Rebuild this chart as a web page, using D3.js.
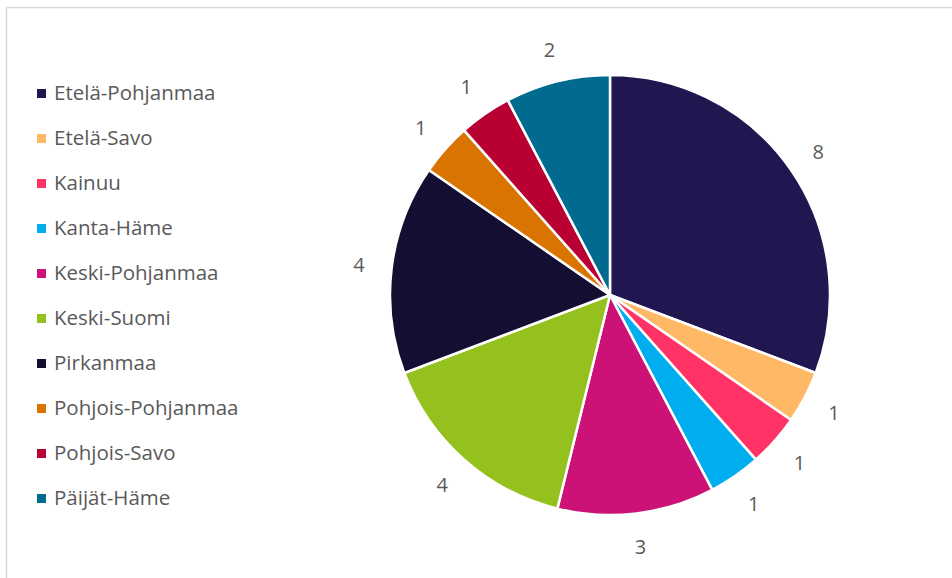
<!DOCTYPE html>
<html>
<head>
<meta charset="utf-8">
<script src="https://cdn.jsdelivr.net/npm/d3@7"></script>
<style>
  html, body { margin: 0; padding: 0; background: #fff; }
  svg { display: block; }
</style>
</head>
<body>
<svg id="chart" width="952" height="578"></svg>
<script>
// Maakunnat ja lukumäärät
const regions = ["Etelä-Pohjanmaa", "Etelä-Savo", "Kainuu", "Kanta-Häme", "Keski-Pohjanmaa",
                 "Keski-Suomi", "Pirkanmaa", "Pohjois-Pohjanmaa", "Pohjois-Savo", "Päijät-Häme"];
const counts = [8, 1, 1, 1, 3, 4, 4, 1, 1, 2];
const colors = ["#201751", "#FFB866", "#FF3366", "#00AEEF", "#CC1177",
                "#95C11F", "#140E33", "#D97400", "#B80033", "#006B8F"];

const svg = d3.select("#chart");
const font = "'Open Sans', sans-serif";
const textColor = "#595959";

// chart frame
svg.append("rect")
  .attr("x", 6.5).attr("y", 7.5)
  .attr("width", 960).attr("height", 600)
  .attr("fill", "none").attr("stroke", "#d9d9d9").attr("stroke-width", 1.5);

const cx = 610, cy = 295, r = 220, labelR = 253;
const color = d3.scaleOrdinal().domain(regions).range(colors);

const pie = d3.pie().sort(null).value(d => d.value);
const data = regions.map((name, i) => ({ name, value: counts[i] }));
const arcs = pie(data);
const arc = d3.arc().innerRadius(0).outerRadius(r);
const labelArc = d3.arc().innerRadius(labelR).outerRadius(labelR);

const g = svg.append("g").attr("transform", `translate(${cx},${cy})`);
g.selectAll("path.slice")
  .data(arcs)
  .join("path")
  .attr("class", "slice")
  .attr("d", arc)
  .attr("fill", d => color(d.data.name))
  .attr("stroke", "#fff")
  .attr("stroke-width", 2.5)
  .attr("stroke-linejoin", "round");

g.selectAll("text.value")
  .data(arcs)
  .join("text")
  .attr("class", "value")
  .attr("transform", d => `translate(${labelArc.centroid(d)})`)
  .attr("text-anchor", "middle")
  .attr("dominant-baseline", "central")
  .attr("font-family", font)
  .attr("font-size", 20)
  .attr("fill", textColor)
  .text(d => d.data.value);

// legend
const legend = svg.append("g").attr("transform", "translate(37,93.5)");
const item = legend.selectAll("g.item")
  .data(regions)
  .join("g")
  .attr("class", "item")
  .attr("transform", (d, i) => `translate(0,${i * 45})`);
item.append("rect")
  .attr("x", 0).attr("y", -4.5)
  .attr("width", 9).attr("height", 9)
  .attr("fill", d => color(d));
item.append("text")
  .attr("x", 17).attr("y", 6.5)
  .attr("font-family", font)
  .attr("font-size", 20.5)
  .attr("fill", textColor)
  .text(d => d);
</script>
</body>
</html>
